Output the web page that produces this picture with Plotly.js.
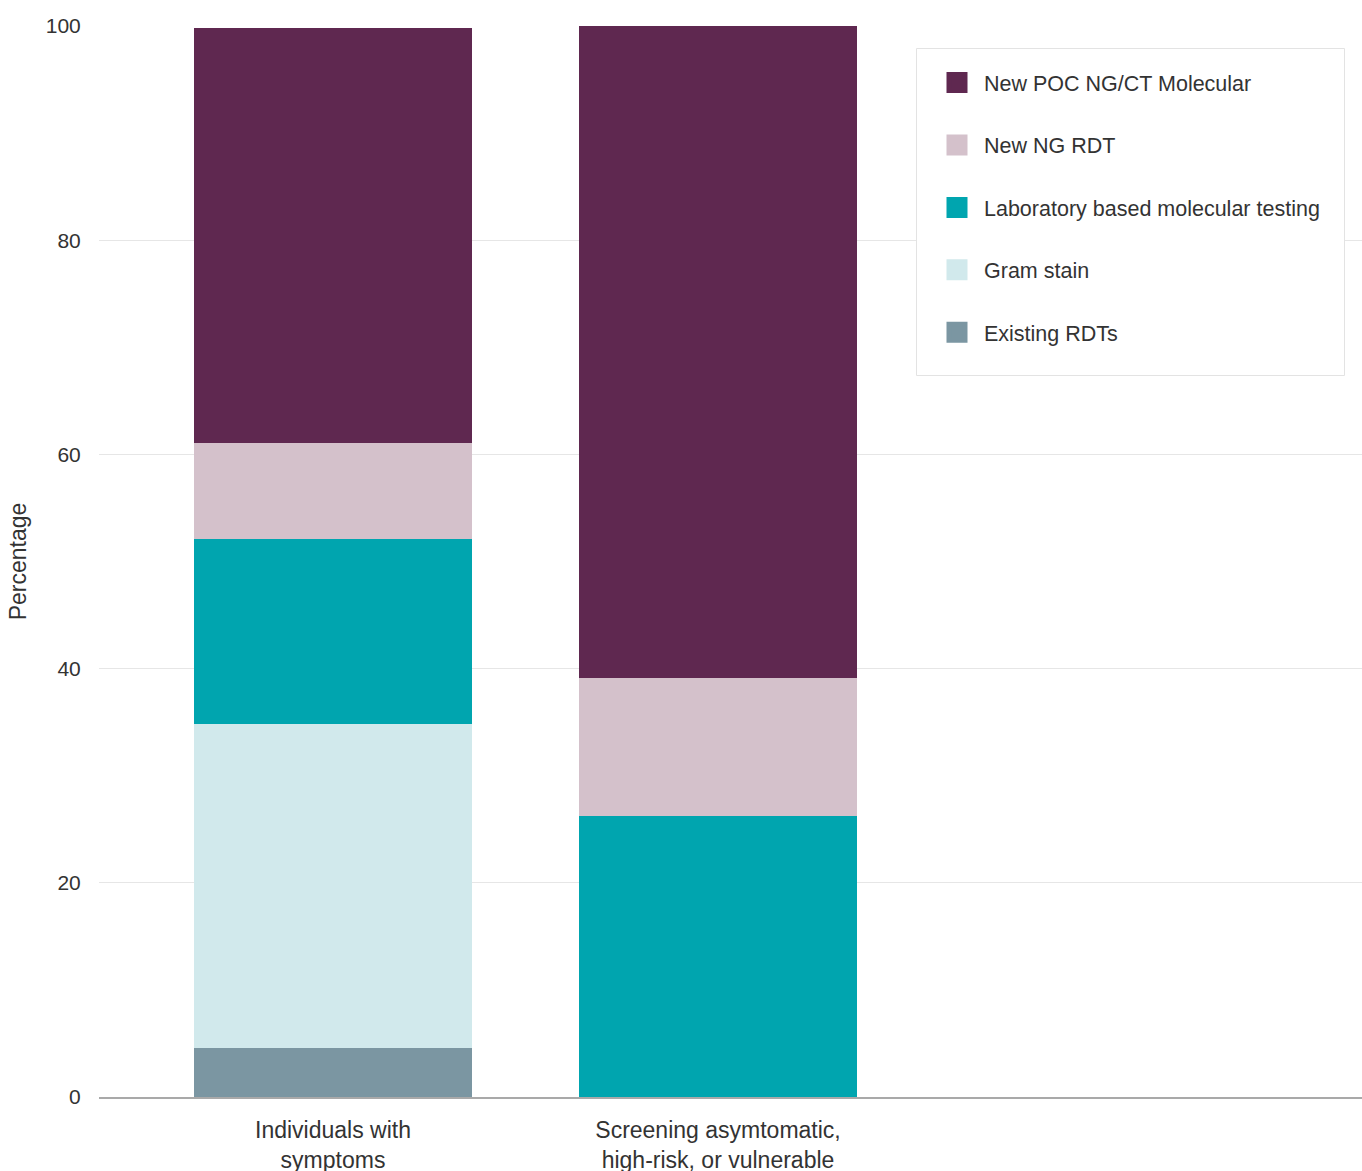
<!DOCTYPE html>
<html>
<head>
<meta charset="utf-8">
<script src="https://cdn.plot.ly/plotly-3.0.1.min.js"></script>
<style>
html,body{margin:0;padding:0;background:#fff;}
#chart{width:1362px;height:1171px;}
</style>
</head>
<body>
<div id="chart"></div>
<script>
// Categories (x axis)
const categories = ["Individuals with<br>symptoms", "Screening asymtomatic,<br>high-risk, or vulnerable"];

// Series values (percentage), stacked bottom to top
const existingRDTs = [4.6, 0];
const gramStain = [30.2, 0];
const labMolecular = [17.3, 26.2];
const newNGRDT = [9.0, 12.9];
const newPOCMolecular = [38.7, 60.9];

// Series names and colours
const seriesNames = ["Existing RDTs", "Gram stain", "Laboratory based molecular testing", "New NG RDT", "New POC NG/CT Molecular"];
const seriesValues = [existingRDTs, gramStain, labMolecular, newNGRDT, newPOCMolecular];
const seriesColors = ["#7b96a2", "#d1e9ec", "#00a5af", "#d4c1cb", "#5f2850"];

// y axis ticks
const yTickVals = [0, 20, 40, 60, 80, 100];

const FONT = "Liberation Sans, Arial, Helvetica, sans-serif";
const TEXT = "#333333";

const traces = [];
seriesNames.forEach((name, i) => {
  traces.push({
    type: "bar",
    name: name,
    x: categories,
    y: seriesValues[i],
    marker: {color: seriesColors[i], line: {width: 0}},
    showlegend: false,
    hoverinfo: "x+y+name"
  });
});
// Legend entries (top to bottom: reverse of stacking)
for (let i = seriesNames.length - 1; i >= 0; i--) {
  traces.push({
    type: "scatter",
    mode: "markers",
    name: seriesNames[i],
    x: [null],
    y: [null],
    legendgroup: "g" + i,
    marker: {symbol: "square", size: 16, color: seriesColors[i], line: {width: 5, color: seriesColors[i]}},
    showlegend: true,
    hoverinfo: "skip"
  });
}

const W = 1362, H = 1171;
const mL = 99, mR = 0, mT = 26, mB = 74;
const pw = W - mL - mR, ph = H - mT - mB;
const px = v => (v - mL) / pw;
const py = v => (H - mB - v) / ph;

const layout = {
  width: W,
  height: H,
  margin: {l: mL, r: mR, t: mT, b: mB, pad: 0},
  paper_bgcolor: "#ffffff",
  plot_bgcolor: "#ffffff",
  font: {family: FONT, color: TEXT, size: 20},
  barmode: "stack",
  bargap: 0.278,
  showlegend: true,
  legend: {
    x: px(930), xanchor: "left",
    y: py(62), yanchor: "top",
    bgcolor: "rgba(0,0,0,0)",
    borderwidth: 0,
    font: {family: FONT, size: 21.5, color: TEXT},
    traceorder: "grouped",
    tracegroupgap: 31.5,
    itemwidth: 44,
    itemclick: false,
    itemdoubleclick: false
  },
  shapes: [{
    type: "rect", xref: "paper", yref: "paper",
    x0: px(916.5), x1: px(1344.5), y0: py(375.5), y1: py(48.5),
    fillcolor: "#ffffff",
    line: {color: "#e3e3e3", width: 1},
    layer: "above"
  }],
  xaxis: {
    type: "category",
    range: [-0.6078, 2.6727],
    autorange: false,
    showgrid: false,
    zeroline: false,
    showline: true,
    linecolor: "#a9a9a9",
    linewidth: 1.5,
    ticks: "outside",
    ticklen: 12,
    tickcolor: "rgba(0,0,0,0)",
    tickfont: {family: FONT, size: 23, color: TEXT},
    fixedrange: true
  },
  yaxis: {
    range: [0, 100],
    autorange: false,
    tickvals: yTickVals,
    ticktext: yTickVals.map(String),
    showgrid: true,
    gridcolor: "#e6e6e6",
    gridwidth: 1,
    zeroline: false,
    showline: false,
    ticks: "outside",
    ticklen: 13,
    tickcolor: "rgba(0,0,0,0)",
    tickfont: {family: FONT, size: 21, color: TEXT},
    title: {text: "Percentage", font: {family: FONT, size: 23, color: TEXT}, standoff: 12},
    automargin: false,
    fixedrange: true
  }
};

Plotly.newPlot("chart", traces, layout, {displayModeBar: false, staticPlot: false, responsive: false});
</script>
</body>
</html>
